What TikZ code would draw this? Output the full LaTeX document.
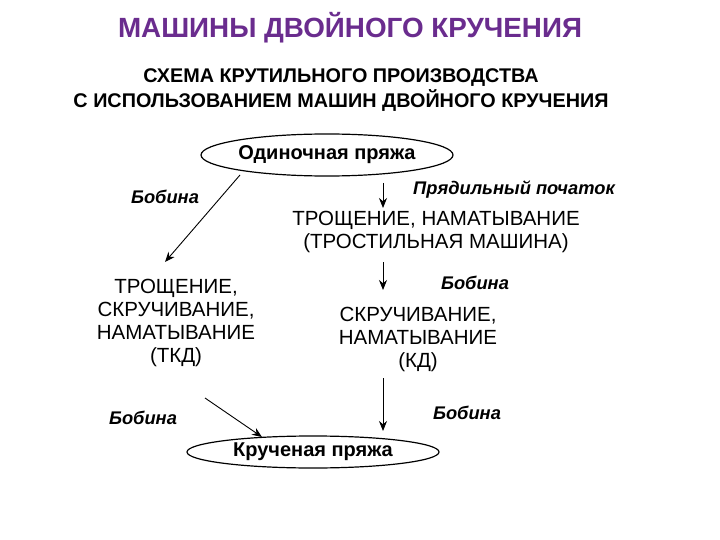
\documentclass[tikz,border=0pt]{standalone}
\usepackage{fontspec}
\setmainfont{Liberation Sans}
\usetikzlibrary{shapes.geometric,arrows.meta}
\definecolor{ttl}{HTML}{6A2C8E}
\begin{document}
\begin{tikzpicture}[x=1pt,y=-1pt,
  txt/.style={font=\fontsize{20.5}{23}\selectfont,align=center,inner sep=0},
  lbl/.style={font=\fontsize{18.3}{20}\selectfont\bfseries\itshape,inner sep=0},
  ell/.style={ellipse,draw,line width=1.2pt,minimum width=252pt,inner sep=0,font=\fontsize{20}{22}\selectfont\bfseries},
  arr/.style={-{Stealth[length=10pt,width=8pt]},line width=0.9pt}]
\useasboundingbox (0,0) rectangle (720,540);
\node[font=\fontsize{27.8}{30}\selectfont\bfseries,text=ttl] (title) at (350,28) {МАШИНЫ ДВОЙНОГО КРУЧЕНИЯ};
\node[txt,font=\fontsize{19.8}{25}\selectfont\bfseries] (sub) at (341,90) {СХЕМА КРУТИЛЬНОГО ПРОИЗВОДСТВА\\С ИСПОЛЬЗОВАНИЕМ МАШИН ДВОЙНОГО КРУЧЕНИЯ};
\node[ell,minimum height=42pt] (top) at (327,155) {Одиночная пряжа};
\node[lbl] (b1) at (165,197) {Бобина};
\node[lbl] (pp) at (514,190) {Прядильный початок};
\node[txt] (tros) at (436,232) {ТРОЩЕНИЕ, НАМАТЫВАНИЕ\\(ТРОСТИЛЬНАЯ МАШИНА)};
\node[lbl] (b2) at (475,283) {Бобина};
\node[txt] (tkd) at (176,323) {ТРОЩЕНИЕ,\\СКРУЧИВАНИЕ,\\НАМАТЫВАНИЕ\\(ТКД)};
\node[txt] (kd) at (418,339) {СКРУЧИВАНИЕ,\\НАМАТЫВАНИЕ\\(КД)};
\node[lbl] (b3) at (143,418) {Бобина};
\node[lbl] (b4) at (467,413) {Бобина};
\node[ell,minimum height=32pt] (bot) at (313,452) {Крученая пряжа};
\coordinate (a1s) at (240,175); \coordinate (a1e) at (165,262);
\coordinate (a2s) at (383,183); \coordinate (a2e) at (383,208);
\coordinate (a3s) at (383,262); \coordinate (a3e) at (383,290);
\coordinate (a4s) at (383,378); \coordinate (a4e) at (383,431);
\coordinate (a5s) at (205,398); \coordinate (a5e) at (262,437);
\draw[arr] (a1s) -- (a1e);
\draw[arr] (a2s) -- (a2e);
\draw[arr] (a3s) -- (a3e);
\draw[arr] (a4s) -- (a4e);
\draw[arr] (a5s) -- (a5e);
\end{tikzpicture}
\end{document}
